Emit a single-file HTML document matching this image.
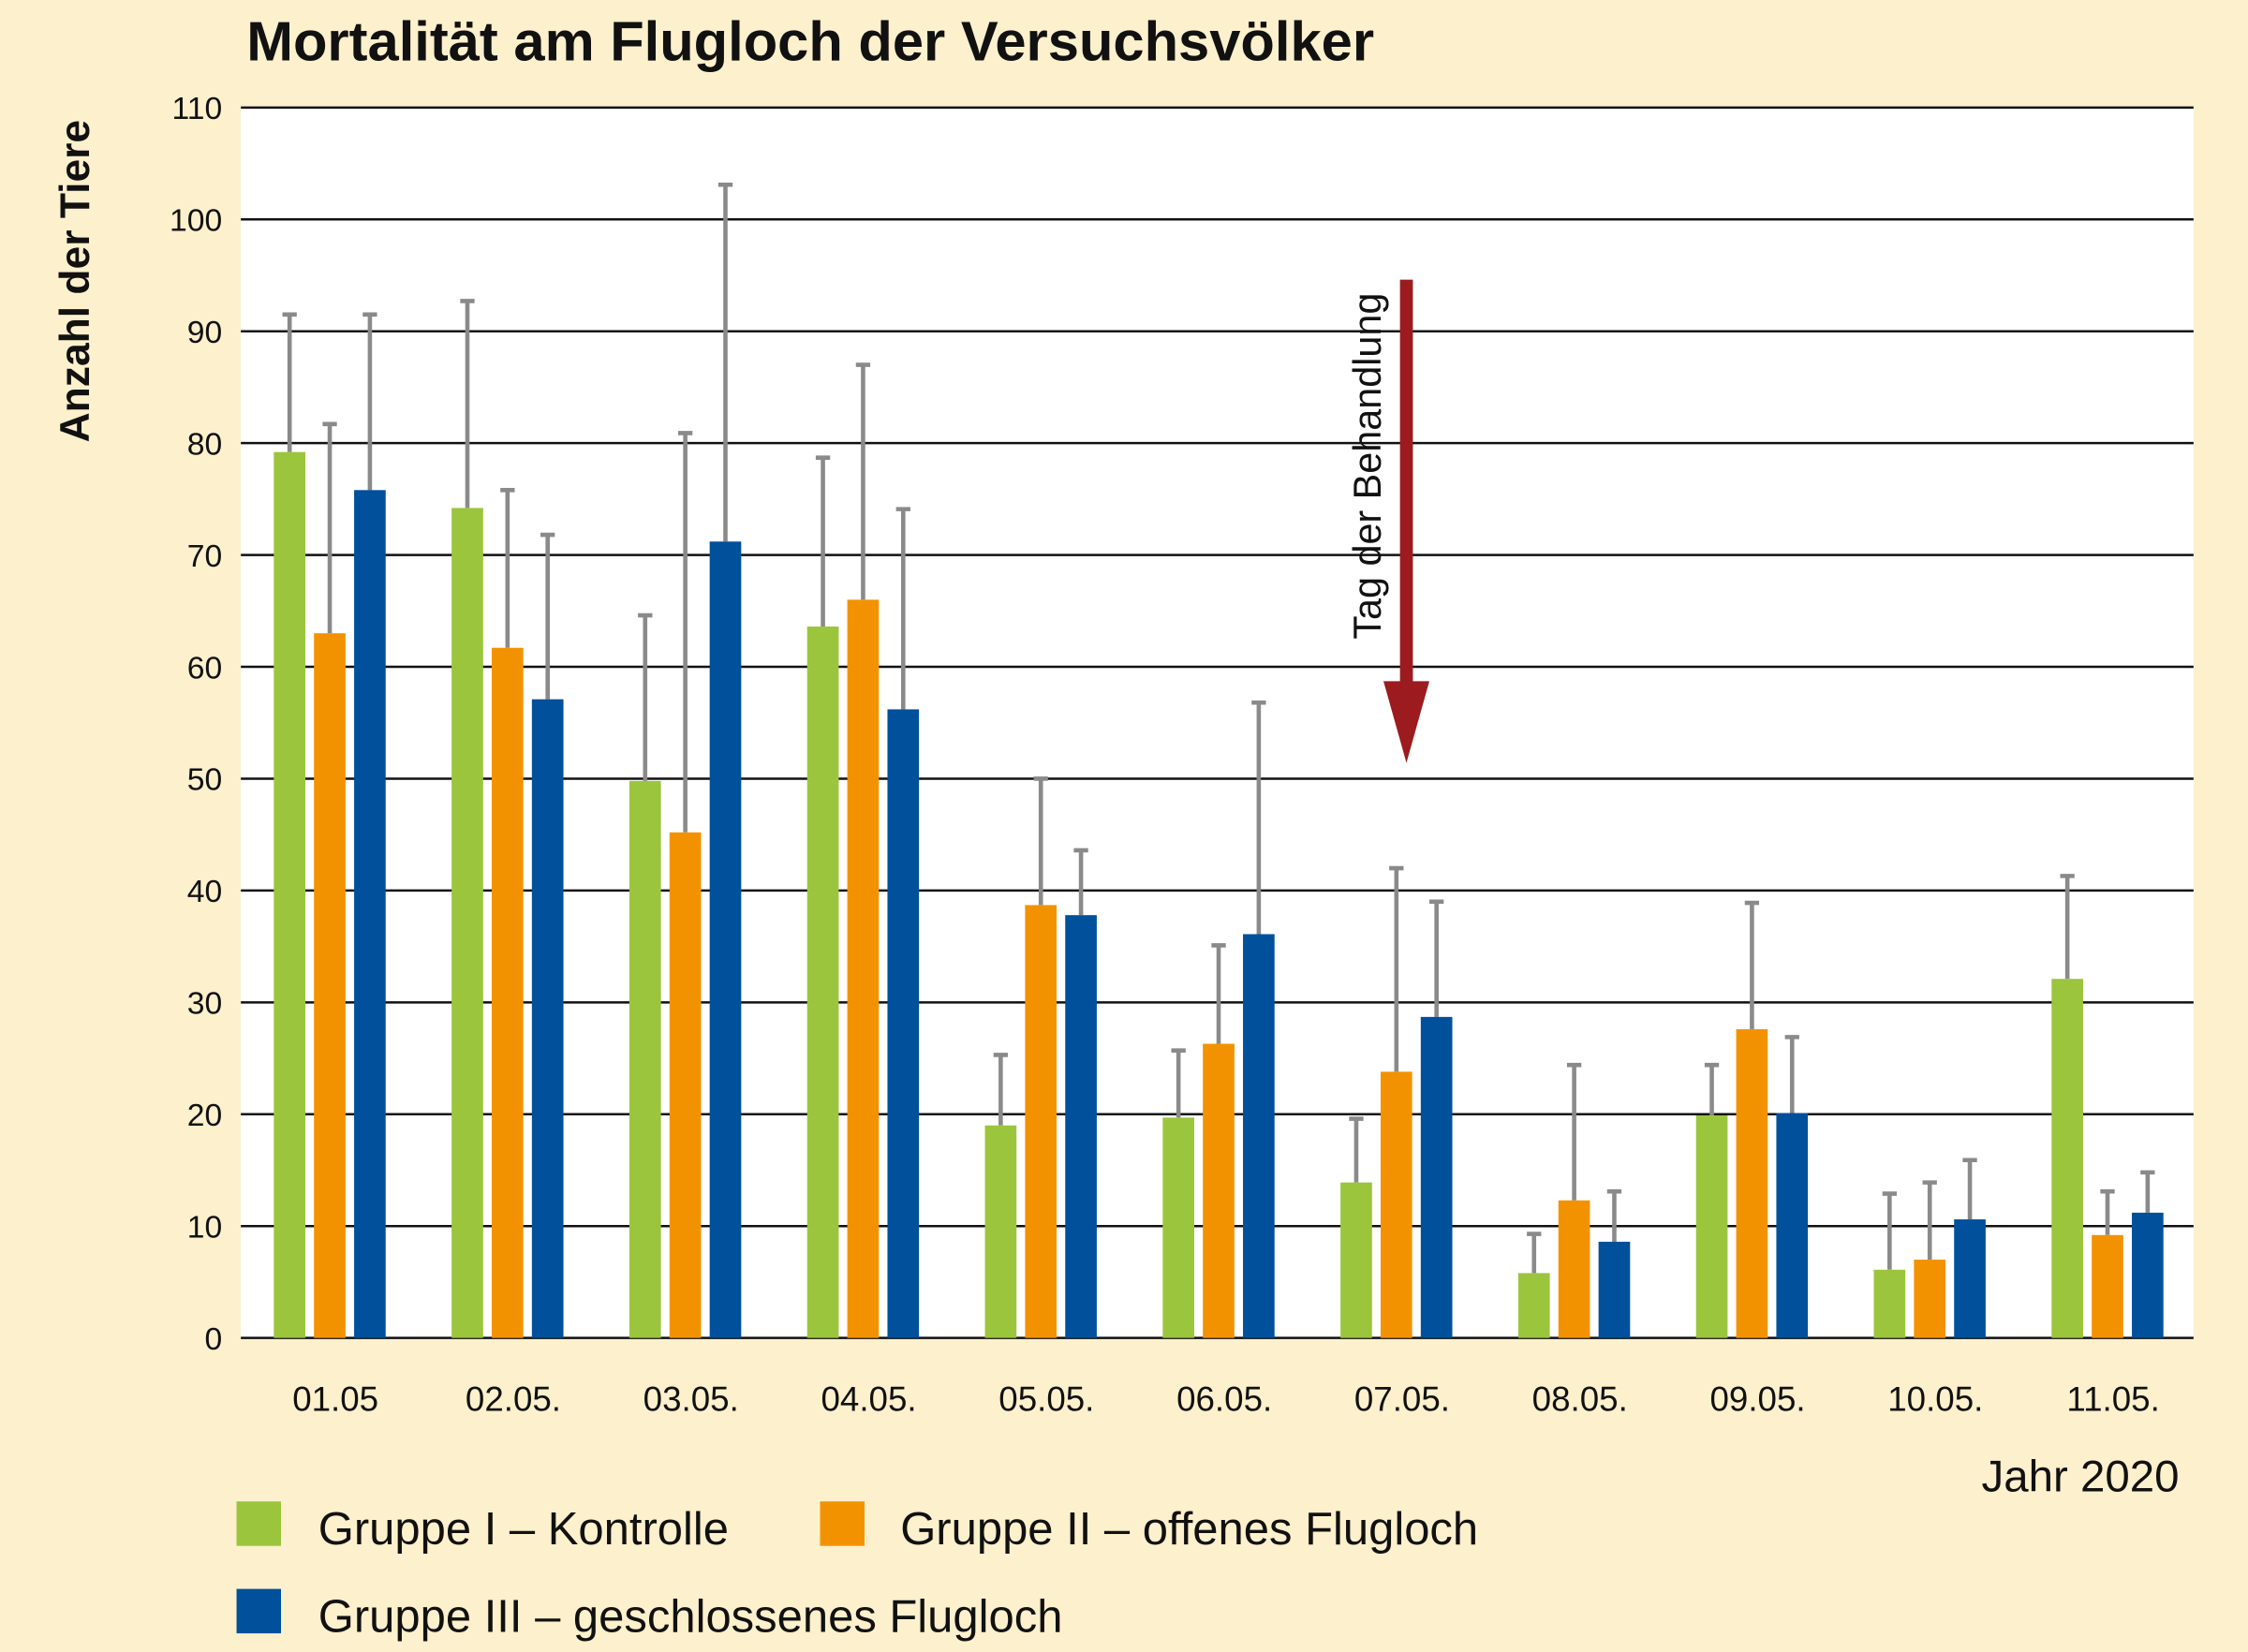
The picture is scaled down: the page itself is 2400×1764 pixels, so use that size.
<!DOCTYPE html>
<html><head><meta charset="utf-8"><style>
html,body{margin:0;padding:0;background:#fdf0cc;}
svg{display:block;}
text{font-family:"Liberation Sans","DejaVu Sans",sans-serif;fill:#111;}
</style></head><body>
<svg xmlns="http://www.w3.org/2000/svg" width="2400" height="1764" viewBox="0 0 1568 1152" preserveAspectRatio="none">
<rect x="0" y="0" width="1568" height="1152" fill="#fdf0cc"/>
<rect x="168" y="75" width="1362" height="858" fill="#ffffff"/>
<text x="172" y="42" font-size="39" font-weight="bold">Mortalität am Flugloch der Versuchsvölker</text>
<text transform="translate(62,196) rotate(-90)" font-size="29" font-weight="bold" text-anchor="middle">Anzahl der Tiere</text>
<g stroke="#111" stroke-width="1.6">
<line x1="168" x2="1530" y1="75" y2="75"/><line x1="168" x2="1530" y1="153" y2="153"/><line x1="168" x2="1530" y1="231" y2="231"/><line x1="168" x2="1530" y1="309" y2="309"/><line x1="168" x2="1530" y1="387" y2="387"/><line x1="168" x2="1530" y1="465" y2="465"/><line x1="168" x2="1530" y1="543" y2="543"/><line x1="168" x2="1530" y1="621" y2="621"/><line x1="168" x2="1530" y1="699" y2="699"/><line x1="168" x2="1530" y1="777" y2="777"/><line x1="168" x2="1530" y1="855" y2="855"/><line x1="168" x2="1530" y1="933" y2="933"/>
</g>
<g font-size="22" text-anchor="end">
<text x="155" y="83">110</text><text x="155" y="161">100</text><text x="155" y="239">90</text><text x="155" y="317">80</text><text x="155" y="395">70</text><text x="155" y="473">60</text><text x="155" y="551">50</text><text x="155" y="629">40</text><text x="155" y="707">30</text><text x="155" y="785">20</text><text x="155" y="863">10</text><text x="155" y="941">0</text>
</g>
<path fill="none" stroke="#8a8a8a" stroke-width="3" d="
M202 219.3V315.24M197 219.3H207 M230 295.74V441.6M225 295.74H235 M258 219.3V341.76M253 219.3H263
M326 209.94V354.24M321 209.94H331 M354 341.76V451.74M349 341.76H359 M382 372.96V487.62M377 372.96H387
M450 429.12V544.56M445 429.12H455 M478 301.98V580.44M473 301.98H483 M506 128.82V377.64M501 128.82H511
M574 319.14V436.92M569 319.14H579 M602 254.4V418.2M597 254.4H607 M630 355.02V494.64M625 355.02H635
M698 735.66V784.8M693 735.66H703 M726 543V631.14M721 543H731 M754 592.92V638.16M749 592.92H759
M822 732.54V779.34M817 732.54H827 M850 659.22V727.86M845 659.22H855 M878 489.96V651.42M873 489.96H883
M946 780.12V824.58M941 780.12H951 M974 605.4V747.36M969 605.4H979 M1002 628.8V709.14M997 628.8H1007
M1070 860.46V887.76M1065 860.46H1075 M1098 742.68V837.06M1093 742.68H1103 M1126 830.82V865.92M1121 830.82H1131
M1194 742.68V777.78M1189 742.68H1199 M1222 629.58V717.72M1217 629.58H1227 M1250 723.18V776.22M1245 723.18H1255
M1318 832.38V885.42M1313 832.38H1323 M1346 824.58V878.4M1341 824.58H1351 M1374 808.98V850.32M1369 808.98H1379
M1442 610.86V682.62M1437 610.86H1447 M1470 830.82V861.24M1465 830.82H1475 M1498 817.56V845.64M1493 817.56H1503"/>
<g fill="#9bc53d">
<rect x="191" y="315.24" width="22" height="617.76"/><rect x="315" y="354.24" width="22" height="578.76"/><rect x="439" y="544.56" width="22" height="388.44"/><rect x="563" y="436.92" width="22" height="496.08"/><rect x="687" y="784.8" width="22" height="148.2"/><rect x="811" y="779.34" width="22" height="153.66"/><rect x="935" y="824.58" width="22" height="108.42"/><rect x="1059" y="887.76" width="22" height="45.24"/><rect x="1183" y="777.78" width="22" height="155.22"/><rect x="1307" y="885.42" width="22" height="47.58"/><rect x="1431" y="682.62" width="22" height="250.38"/>
</g>
<g fill="#f39200">
<rect x="219" y="441.6" width="22" height="491.4"/><rect x="343" y="451.74" width="22" height="481.26"/><rect x="467" y="580.44" width="22" height="352.56"/><rect x="591" y="418.2" width="22" height="514.8"/><rect x="715" y="631.14" width="22" height="301.86"/><rect x="839" y="727.86" width="22" height="205.14"/><rect x="963" y="747.36" width="22" height="185.64"/><rect x="1087" y="837.06" width="22" height="95.94"/><rect x="1211" y="717.72" width="22" height="215.28"/><rect x="1335" y="878.4" width="22" height="54.6"/><rect x="1459" y="861.24" width="22" height="71.76"/>
</g>
<g fill="#00509b">
<rect x="247" y="341.76" width="22" height="591.24"/><rect x="371" y="487.62" width="22" height="445.38"/><rect x="495" y="377.64" width="22" height="555.36"/><rect x="619" y="494.64" width="22" height="438.36"/><rect x="743" y="638.16" width="22" height="294.84"/><rect x="867" y="651.42" width="22" height="281.58"/><rect x="991" y="709.14" width="22" height="223.86"/><rect x="1115" y="865.92" width="22" height="67.08"/><rect x="1239" y="776.22" width="22" height="156.78"/><rect x="1363" y="850.32" width="22" height="82.68"/><rect x="1487" y="845.64" width="22" height="87.36"/>
</g>
<g font-size="24" text-anchor="middle">
<text x="234" y="984">01.05</text><text x="358" y="984">02.05.</text><text x="482" y="984">03.05.</text><text x="606" y="984">04.05.</text><text x="730" y="984">05.05.</text><text x="854" y="984">06.05.</text><text x="978" y="984">07.05.</text><text x="1102" y="984">08.05.</text><text x="1226" y="984">09.05.</text><text x="1350" y="984">10.05.</text><text x="1474" y="984">11.05.</text>
</g>
<text x="1520" y="1040" font-size="31" text-anchor="end">Jahr 2020</text>
<line x1="981" y1="195" x2="981" y2="480" stroke="#9b1b1e" stroke-width="9"/>
<polygon points="965,475 997,475 981,532" fill="#9b1b1e"/>
<text transform="translate(963,325) rotate(-90)" font-size="27" text-anchor="middle">Tag der Behandlung</text>
<rect x="165" y="1047" width="31" height="31" fill="#9bc53d"/>
<text x="222" y="1077" font-size="32">Gruppe I – Kontrolle</text>
<rect x="572" y="1047" width="31" height="31" fill="#f39200"/>
<text x="628" y="1077" font-size="32">Gruppe II – offenes Flugloch</text>
<rect x="165" y="1108" width="31" height="31" fill="#00509b"/>
<text x="222" y="1138" font-size="32">Gruppe III – geschlossenes Flugloch</text>
</svg>
</body></html>
